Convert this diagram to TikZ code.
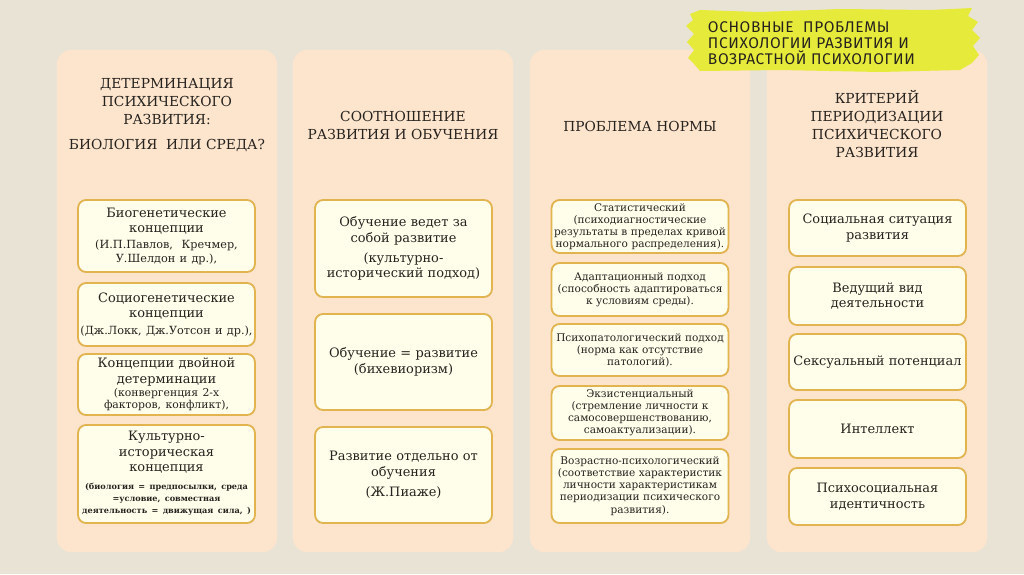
\documentclass[tikz,border=0pt]{standalone}
\usepackage{fontspec}
\setmainfont{DejaVu Serif}
\newfontfamily\bannerfont[LetterSpace=4]{Fira Sans}
\usepackage{tikz}
\usetikzlibrary{positioning}
\definecolor{bg}{RGB}{233,227,214}
\definecolor{column}{RGB}{252,228,205}
\definecolor{gold}{RGB}{226,180,80}
\definecolor{marker}{RGB}{230,234,58}
\definecolor{ink}{RGB}{38,34,30}
\newcommand{\sub}{\fontsize{8}{9.4}\selectfont}

\begin{document}
\begin{tikzpicture}[x=0.025cm, y=-0.025cm,
  col/.style={fill=column, rounded corners=0.35cm, minimum width=5.5cm, minimum height=12.55cm, inner sep=0pt},
  head/.style={align=center, text=ink, font=\fontsize{9.8}{12.8}\selectfont},
  item/.style={draw=gold, line width=1.3pt, fill=white!92!yellow, rounded corners=0.2cm, text width=4.35cm, align=center, inner sep=1pt, text=ink, font=\fontsize{9.2}{11.2}\selectfont},
  normtext/.style={font=\fontsize{7.5}{8.6}\selectfont},
]
\fill[bg] (0,0) rectangle (1024,574);

% columns
\node[col] (col1) at (167,301) {};
\node[col] (col2) at (403,301) {};
\node[col] (col3) at (640,301) {};
\node[col] (col4) at (877,301) {};

% headings
\node[head] (h1) at (167,115) {ДЕТЕРМИНАЦИЯ\\ПСИХИЧЕСКОГО\\РАЗВИТИЯ:\\[5pt]БИОЛОГИЯ~~ИЛИ СРЕДА?};
\node[head] (h2) at (403,125) {СООТНОШЕНИЕ\\РАЗВИТИЯ И ОБУЧЕНИЯ};
\node[head] (h3) at (640,126) {ПРОБЛЕМА НОРМЫ};
\node[head] (h4) at (877,124) {КРИТЕРИЙ\\ПЕРИОДИЗАЦИИ\\ПСИХИЧЕСКОГО\\РАЗВИТИЯ};

% biology or environment
\node[item, minimum height=1.8cm] (bio) at (166.5,236) {Биогенетические\\концепции\\[2pt]{\sub(И.П.Павлов,~ Кречмер,\\У.Шелдон и др.),\par}};
\node[item, minimum height=1.575cm] (socio) at (166.5,314.5) {Социогенетические\\концепции\\[2pt]{\sub(Дж.Локк, Дж.Уотсон и др.),\par}};
\node[item, minimum height=1.525cm] (dual) at (166.5,384.5) {Концепции двойной\\детерминации\\{\fontsize{7.7}{8.8}\selectfont(конвергенция 2-х\\факторов, конфликт),\par}};
\node[item, minimum height=2.45cm] (cult) at (166.5,474) {Культурно-\\историческая\\концепция\\[4pt]{\bfseries\fontsize{5.8}{8.6}\selectfont\begin{tabular}{@{}c@{}}(биология = предпосылки, среда\\=условие, совместная\\деятельность = движущая сила, )\end{tabular}\par}};

% learning and development
\node[item, minimum height=2.425cm] (lead) at (403.5,248.5) {Обучение ведет за\\собой развитие\\[3pt](культурно-\\исторический подход)};
\node[item, minimum height=2.4cm] (equal) at (403.5,362) {Обучение = развитие\\(бихевиоризм)};
\node[item, minimum height=2.4cm] (apart) at (403.5,475) {Развитие отдельно от\\обучения\\[3pt](Ж.Пиаже)};

% norm
\node[item, normtext, minimum height=1.325cm] (stat) at (640,226.5) {Статистический\\(психодиагностические\\результаты в пределах кривой\\нормального распределения).};
\node[item, normtext, minimum height=1.325cm] (adapt) at (640,289.5) {Адаптационный подход\\(способность адаптироваться\\к условиям среды).};
\node[item, normtext, minimum height=1.3cm] (patho) at (640,350) {Психопатологический подход\\(норма как отсутствие\\патологий).};
\node[item, normtext, minimum height=1.35cm] (exist) at (640,413) {Экзистенциальный\\(стремление личности к\\самосовершенствованию,\\самоактуализации).};
\node[item, normtext, minimum height=1.85cm] (age) at (640,486) {Возрастно-психологический\\(соответствие характеристик\\личности характеристикам\\периодизации психического\\развития).};

% periodization criteria
\node[item, minimum height=1.4cm] (social) at (877.5,228) {Социальная ситуация\\развития};
\node[item, minimum height=1.45cm] (activity) at (877.5,296) {Ведущий вид\\деятельности};
\node[item, minimum height=1.4cm] (sexual) at (877.5,362) {Сексуальный потенциал};
\node[item, minimum height=1.45cm] (intellect) at (877.5,429) {Интеллект};
\node[item, minimum height=1.425cm] (identity) at (877.5,496.5) {Психосоциальная\\идентичность};

% banner
\fill[marker] (690,14) -- (700,10) -- (760,12) -- (840,9) -- (930,10) -- (972,8) -- (968,16) -- (978,22)
  -- (972,30) -- (980,38) -- (973,46) -- (979,55) -- (972,63) -- (960,70) -- (880,72) -- (780,70)
  -- (700,71) -- (694,64) -- (688,58) -- (694,50) -- (687,42) -- (694,34) -- (686,26) -- (693,20) -- cycle;
\node[anchor=north west, align=left, text=ink, font=\bannerfont\fontsize{11}{11.4}\selectfont] (banner) at (703,17)
  {ОСНОВНЫЕ~~ПРОБЛЕМЫ\\ПСИХОЛОГИИ РАЗВИТИЯ И\\ВОЗРАСТНОЙ ПСИХОЛОГИИ};
\end{tikzpicture}
\end{document}
